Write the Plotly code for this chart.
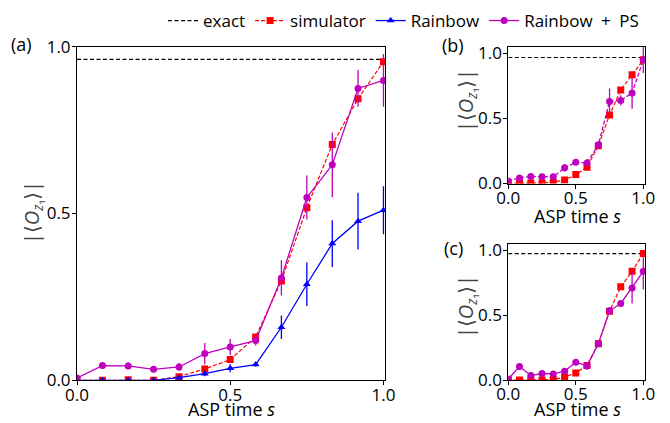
import plotly.graph_objects as go

# ---------------- data ----------------
s_time = [0.0, 0.083, 0.167, 0.25, 0.333, 0.417, 0.5, 0.583, 0.667, 0.75, 0.833, 0.917, 1.0]
exact_line_x = [0.0, 1.0]

# panel (a)
exact_a = 0.962
sim_a = [0.0, 0.0, 0.002, 0.0, 0.011, 0.034, 0.062, 0.13, 0.298, 0.517, 0.707, 0.844, 0.955]
rb_a = [0.0, 0.0, 0.0, 0.0, 0.008, 0.02, 0.036, 0.047, 0.159, 0.288, 0.41, 0.477, 0.51]
rb_a_err = [0.0, 0.0, 0.0, 0.0, 0.006, 0.008, 0.012, 0.006, 0.035, 0.065, 0.07, 0.085, 0.072]
ps_a = [0.007, 0.044, 0.043, 0.033, 0.04, 0.08, 0.1, 0.119, 0.307, 0.548, 0.646, 0.875, 0.899]
ps_a_err = [0.005, 0.01, 0.01, 0.008, 0.012, 0.032, 0.024, 0.015, 0.053, 0.066, 0.097, 0.055, 0.079]

# panel (b)
exact_b = 0.967
sim_b = [0.0, 0.003, 0.003, 0.003, 0.01, 0.026, 0.069, 0.125, 0.29, 0.526, 0.717, 0.834, 0.949]
ps_b = [0.02, 0.043, 0.054, 0.051, 0.051, 0.12, 0.163, 0.158, 0.296, 0.63, 0.638, 0.694, 0.949]
ps_b_err = [0.005, 0.01, 0.008, 0.008, 0.01, 0.03, 0.012, 0.03, 0.03, 0.1, 0.04, 0.12, 0.1]

# panel (c)
exact_c = 0.975
sim_c = [0.0, 0.0, 0.0, 0.0, 0.003, 0.023, 0.055, 0.112, 0.279, 0.531, 0.719, 0.839, 0.977]
ps_c = [0.008, 0.104, 0.034, 0.05, 0.047, 0.068, 0.138, 0.109, 0.279, 0.534, 0.591, 0.711, 0.839]
ps_c_err = [0.005, 0.01, 0.008, 0.008, 0.008, 0.01, 0.015, 0.03, 0.02, 0.03, 0.025, 0.12, 0.14]

tick_vals = [0.0, 0.5, 1.0]
tick_text = ["0.0", "0.5", "1.0"]
panel_labels = ["(a)", "(b)", "(c)"]
legend_names = ["exact", "simulator", "Rainbow", "Rainbow\u2002+\u2002PS"]
x_title = "ASP time <i>s</i>"
y_title = "|⟨<i>O</i><sub><i>z</i>₁</sub>⟩|"

RED = "#ff0000"
BLUE = "#0000ff"
MAG = "#bf00bf"
FONT = "Open Sans, DejaVu Sans, sans-serif"

# page body has an 8px margin: figure is drawn from (8, 8) in the window
OFF = 8
W, H = 670 - OFF, 423 - OFF


def px(x):
    return (x - OFF) / W


def py(y):
    return 1 - (y - OFF) / H


fig = go.Figure()


def add_panel(n, exact, sim, ps, ps_err, ps_dash, rb=None, rb_err=None, legend=False):
    xa = "x" if n == 1 else f"x{n}"
    ya = "y" if n == 1 else f"y{n}"
    fig.add_trace(go.Scatter(x=exact_line_x, y=[exact, exact], mode="lines", name=legend_names[0],
                             line=dict(color="black", width=1.2, dash="4px,2.5px"),
                             xaxis=xa, yaxis=ya, showlegend=legend))
    fig.add_trace(go.Scatter(x=s_time, y=sim, mode="lines+markers", name=legend_names[1],
                             line=dict(color=RED, width=1.2, dash="4px,2px"),
                             marker=dict(symbol="square", size=7, color=RED),
                             xaxis=xa, yaxis=ya, showlegend=legend))
    if rb is not None:
        fig.add_trace(go.Scatter(x=s_time, y=rb, mode="lines+markers", name=legend_names[2],
                                 line=dict(color=BLUE, width=1.3),
                                 marker=dict(symbol="triangle-up", size=7, color=BLUE),
                                 error_y=dict(type="data", array=rb_err, color=BLUE,
                                              thickness=1.3, width=0),
                                 xaxis=xa, yaxis=ya, showlegend=legend))
    fig.add_trace(go.Scatter(x=s_time, y=ps, mode="lines+markers", name=legend_names[3],
                             line=dict(color=MAG, width=1.3, dash=ps_dash),
                             marker=dict(symbol="circle", size=7, color=MAG),
                             error_y=dict(type="data", array=ps_err, color=MAG,
                                          thickness=1.3, width=0),
                             xaxis=xa, yaxis=ya, showlegend=legend))


add_panel(1, exact_a, sim_a, ps_a, ps_a_err, "solid", rb_a, rb_a_err, legend=True)
add_panel(2, exact_b, sim_b, ps_b, ps_b_err, "4px,2px")
add_panel(3, exact_c, sim_c, ps_c, ps_c_err, "solid")

axis_common = dict(showline=True, linecolor="black", linewidth=1, mirror=True,
                   ticks="outside", ticklen=4, tickwidth=1, tickcolor="black",
                   showgrid=False, zeroline=False, tickvals=tick_vals, ticktext=tick_text,
                   automargin=False,
                   tickfont=dict(size=17, color="black", family=FONT))
x_common = dict(ticklabelstandoff=-5, **axis_common)
y_common = dict(ticklabelstandoff=-2, **axis_common)

fig.update_layout(
    width=W, height=H,
    margin=dict(l=0, r=0, t=0, b=0, autoexpand=False),
    paper_bgcolor="white", plot_bgcolor="white",
    font=dict(family=FONT, color="black"),
    xaxis=dict(domain=[px(77), px(385)], range=[0, 1.005], anchor="y", **x_common),
    yaxis=dict(domain=[py(380.3), py(46.7)], range=[0, 1.0], anchor="x", **y_common),
    xaxis2=dict(domain=[px(508.3), px(645)], range=[0, 1.0126], anchor="y2", **x_common),
    yaxis2=dict(domain=[py(183.5), py(46.7)], range=[0, 1.05], anchor="x2", **y_common),
    xaxis3=dict(domain=[px(508.3), px(645)], range=[0, 1.0126], anchor="y3", **x_common),
    yaxis3=dict(domain=[py(380), py(244)], range=[0, 1.05], anchor="x3", **y_common),
    legend=dict(orientation="h", x=px(644), xanchor="right", y=py(3), yanchor="top",
                font=dict(size=17, family=FONT), bgcolor="rgba(0,0,0,0)",
                itemwidth=30, tracegroupgap=0),
)

ann = []
# panel labels
for lab, (ax_, ay_) in zip(panel_labels, [(21, 44), (453, 45), (453, 248)]):
    ann.append(dict(text=lab, x=px(ax_), y=py(ay_), xref="paper", yref="paper",
                    showarrow=False, xanchor="center", yanchor="middle",
                    font=dict(size=18, color="black", family=FONT)))
# x titles (anchored at their bottom edge)
for (ax_, ay_) in [(231, 423), (577, 230), (577, 423)]:
    ann.append(dict(text=x_title, x=px(ax_), y=py(ay_), xref="paper", yref="paper",
                    showarrow=False, xanchor="center", yanchor="bottom",
                    font=dict(size=18, color="black", family=FONT)))
# y titles
for (ax_, ay_) in [(33, 213), (466, 101), (466, 307)]:
    ann.append(dict(text=y_title, x=px(ax_), y=py(ay_), xref="paper", yref="paper",
                    showarrow=False, xanchor="center", yanchor="middle", textangle=-90,
                    font=dict(size=20, color="#444444", family=FONT)))
fig.update_layout(annotations=ann)

fig.write_html("out.html")
